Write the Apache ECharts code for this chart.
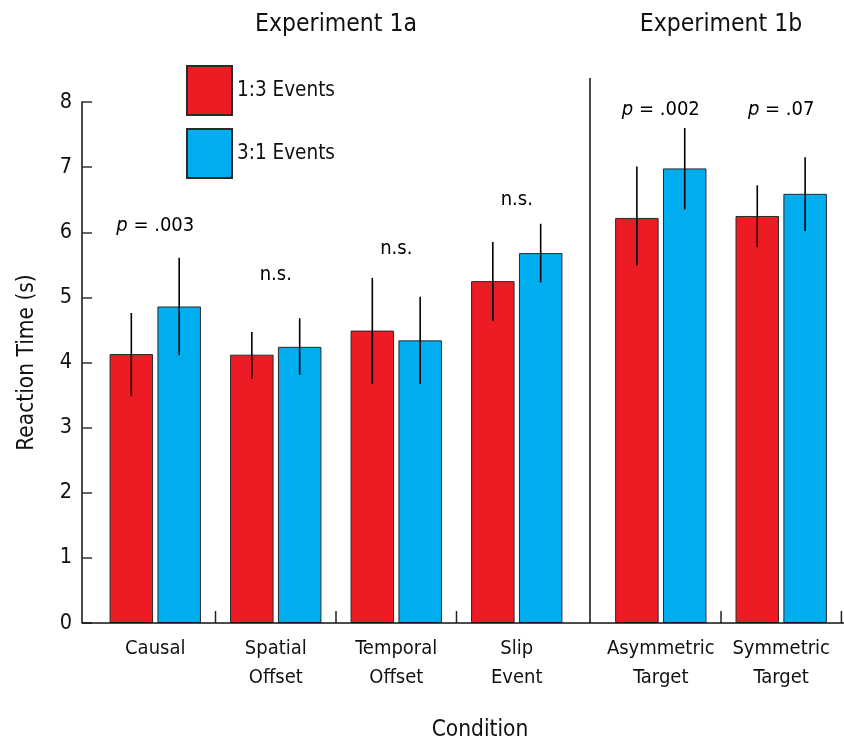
<!DOCTYPE html>
<html>
<head>
<meta charset="utf-8">
<script src="https://cdn.jsdelivr.net/npm/echarts@6/dist/echarts.min.js"></script>
<style>
  html, body { margin: 0; padding: 0; background: #fff; }
  #chart { width: 844px; height: 742px; }
</style>
</head>
<body>
<div id="chart"></div>
<script>
// Conditions of the two experiments
const categories1a = ['Causal', 'Spatial\nOffset', 'Temporal\nOffset', 'Slip\nEvent'];
const categories1b = ['Asymmetric\nTarget', 'Symmetric\nTarget'];
const seriesNames = ['1:3 Events', '3:1 Events'];

// Mean reaction time (s): Experiment 1a conditions first, then Experiment 1b
const rt13 = [4.13, 4.12, 4.49, 5.25, 6.22, 6.25];
const rt31 = [4.86, 4.24, 4.34, 5.68, 6.98, 6.59];

// Error bar ends (s)
const err13Low  = [3.49, 3.75, 3.67, 4.64, 5.49, 5.77];
const err13High = [4.76, 4.47, 5.30, 5.85, 7.01, 6.72];
const err31Low  = [4.11, 3.81, 3.67, 5.23, 6.35, 6.02];
const err31High = [5.61, 4.68, 5.01, 6.13, 7.60, 7.15];

// Significance notes above each condition and the level (s) they sit at
const pLabels = ['p = .003', 'n.s.', 'n.s.', 'n.s.', 'p = .002', 'p = .07'];
const pLabelLevels = [6.1, 5.35, 5.75, 6.5, 7.88, 7.88];

// Reaction time axis
const yMin = 0, yMax = 8, yStep = 1;

const FONT = "'DejaVu Sans Condensed', 'Liberation Sans Narrow', 'Arial Narrow', sans-serif";
const RED = '#ED1C24';
const BLUE = '#00AEEF';
const INK = '#111';
const BAR_W = 43.5;
const BAR_GAP = 0.1;  // fraction of bar width
const BAR_SHIFT = (BAR_W + BAR_W * BAR_GAP) / 2;

const chart = echarts.init(document.getElementById('chart'), null, { renderer: 'canvas' });

function barSeries(name, values, grid, color) {
  return {
    type: 'bar', name: name, xAxisIndex: grid, yAxisIndex: grid,
    data: values, barWidth: BAR_W, barGap: (BAR_GAP * 100) + '%',
    itemStyle: { color: color, borderColor: '#2a2a2a', borderWidth: 1 },
    emphasis: { disabled: true }, silent: true, z: 2
  };
}

function errorSeries(low, high, grid, shift) {
  return {
    type: 'custom', xAxisIndex: grid, yAxisIndex: grid, silent: true, z: 5,
    data: low.map((v, i) => [i, v, high[i]]),
    encode: { x: 0, y: [1, 2] },
    renderItem: function (params, api) {
      const a = api.coord([api.value(0), api.value(1)]);
      const b = api.coord([api.value(0), api.value(2)]);
      return {
        type: 'line',
        shape: { x1: a[0] + shift, y1: a[1], x2: b[0] + shift, y2: b[1] },
        style: { stroke: '#000', lineWidth: 1.6 }
      };
    }
  };
}

// small upward ticks on the right edge of a category band
function boundaryTicks(indices, grid) {
  return {
    type: 'custom', xAxisIndex: grid, yAxisIndex: grid, silent: true, z: 6,
    data: indices.map(i => [i, yMin]),
    renderItem: function (params, api) {
      const c = api.coord([api.value(0), api.value(1)]);
      const half = api.size([1, 0])[0] / 2;
      return {
        type: 'line',
        shape: { x1: c[0] + half, y1: c[1], x2: c[0] + half, y2: c[1] - 12 },
        style: { stroke: '#222', lineWidth: 1.5 }
      };
    }
  };
}

// significance notes, centred over each condition
function noteSeries(labels, levels, grid) {
  return {
    type: 'custom', xAxisIndex: grid, yAxisIndex: grid, silent: true, z: 6,
    data: levels.map((v, i) => [i, v]),
    renderItem: function (params, api) {
      const c = api.coord([api.value(0), api.value(1)]);
      const t = labels[params.dataIndex];
      const isP = t.charAt(0) === 'p';
      return {
        type: 'text', x: c[0], y: c[1],
        style: {
          text: isP ? '{i|p}' + t.slice(1) : t,
          fontFamily: FONT, fontSize: 20, fill: '#000',
          align: 'center', verticalAlign: 'middle',
          rich: { i: { fontStyle: 'italic', fontFamily: FONT, fontSize: 20, fill: '#000' } }
        }
      };
    }
  };
}

const n1 = categories1a.length;

const catAxis = (data, grid) => ({
  type: 'category', gridIndex: grid, data: data,
  axisLine: { show: false }, axisTick: { show: false },
  axisLabel: { fontFamily: FONT, fontSize: 20, lineHeight: 29, margin: 11, color: INK, interval: 0 },
  splitLine: { show: false }
});

const option = {
  animation: false,
  backgroundColor: '#fff',
  legend: {
    data: seriesNames, orient: 'vertical', left: 186, top: 65, padding: 0,
    itemWidth: 45, itemHeight: 49, itemGap: 12, icon: 'rect', selectedMode: false,
    textStyle: { fontFamily: FONT, fontSize: 20.5, color: INK }
  },
  grid: [
    { left: 95, width: 482, top: 102, bottom: 119, outerBoundsMode: 'none', containLabel: false },
    { left: 600.6, width: 240.8, top: 102, bottom: 119, outerBoundsMode: 'none', containLabel: false }
  ],
  xAxis: [catAxis(categories1a, 0), catAxis(categories1b, 1)],
  yAxis: [
    {
      type: 'value', gridIndex: 0, min: yMin, max: yMax, interval: yStep, offset: 13,
      axisLine: { show: true, lineStyle: { color: INK, width: 1.5 } },
      axisTick: { show: true, inside: true, length: 10, lineStyle: { color: '#333', width: 1.5 } },
      axisLabel: { fontFamily: FONT, fontSize: 21.5, margin: 10, color: INK },
      splitLine: { show: false },
      name: 'Reaction Time (s)', nameLocation: 'middle', nameGap: 43,
      nameTextStyle: { fontFamily: FONT, fontSize: 22.5, color: INK }
    },
    { type: 'value', gridIndex: 1, min: yMin, max: yMax, interval: yStep, show: false }
  ],
  graphic: [
    { type: 'line', shape: { x1: 82, y1: 623, x2: 844, y2: 623 }, style: { stroke: INK, lineWidth: 1.5 }, z: 10 },
    { type: 'line', shape: { x1: 590, y1: 78, x2: 590, y2: 623 }, style: { stroke: INK, lineWidth: 1.5 }, z: 10 },
    { type: 'text', x: 336, y: 25, style: { text: 'Experiment 1a', font: '24.5px ' + FONT, fill: INK, textAlign: 'center', textVerticalAlign: 'middle' } },
    { type: 'text', x: 721, y: 25, style: { text: 'Experiment 1b', font: '24.5px ' + FONT, fill: INK, textAlign: 'center', textVerticalAlign: 'middle' } },
    { type: 'text', x: 480, y: 730, style: { text: 'Condition', font: '22.5px ' + FONT, fill: INK, textAlign: 'center', textVerticalAlign: 'middle' } }
  ],
  series: [
    barSeries(seriesNames[0], rt13.slice(0, n1), 0, RED),
    barSeries(seriesNames[1], rt31.slice(0, n1), 0, BLUE),
    barSeries(seriesNames[0], rt13.slice(n1), 1, RED),
    barSeries(seriesNames[1], rt31.slice(n1), 1, BLUE),
    errorSeries(err13Low.slice(0, n1), err13High.slice(0, n1), 0, -BAR_SHIFT),
    errorSeries(err31Low.slice(0, n1), err31High.slice(0, n1), 0, BAR_SHIFT),
    errorSeries(err13Low.slice(n1), err13High.slice(n1), 1, -BAR_SHIFT),
    errorSeries(err31Low.slice(n1), err31High.slice(n1), 1, BAR_SHIFT),
    boundaryTicks(categories1a.slice(0, -1).map((c, i) => i), 0),
    boundaryTicks(categories1b.map((c, i) => i), 1),
    noteSeries(pLabels.slice(0, n1), pLabelLevels.slice(0, n1), 0),
    noteSeries(pLabels.slice(n1), pLabelLevels.slice(n1), 1)
  ]
};

chart.setOption(option);
</script>
</body>
</html>
